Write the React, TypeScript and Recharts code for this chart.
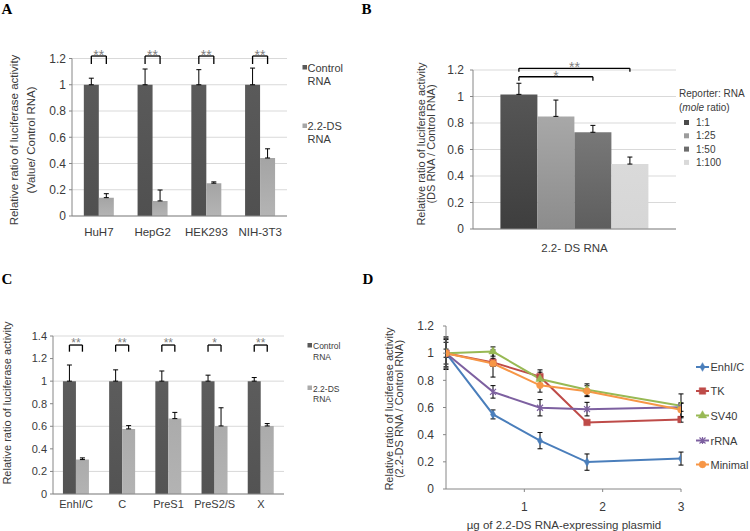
import React from 'react';
import {
  BarChart, Bar, XAxis, YAxis, CartesianGrid, ErrorBar, ReferenceLine,
  LineChart, Line, Symbols,
} from 'recharts';

const FONT = '"Liberation Sans", Arial, Helvetica, sans-serif';
const SERIF = '"Liberation Serif", "Times New Roman", serif';
const TXT = '#3a3a3a';
const AXIS = '#868686';
const GRID = '#d9d9d9';
const STAR = '#7f7f7f';
const W = 750;
const H = 531;

// ---------- Panel A ----------
const cellLinesA = ['HuH7', 'HepG2', 'HEK293', 'NIH-3T3'];
const controlA = [1, 1, 1, 1];
const controlErrA = [0.05, 0.12, 0.115, 0.127];
const dsA = [0.14, 0.115, 0.25, 0.442];
const dsErrA = [0.03, 0.083, 0.01, 0.07];
const sigA = ['**', '**', '**', '**'];
const yTicksA = [0, 0.2, 0.4, 0.6, 0.8, 1, 1.2];
const seriesNamesA = ['Control RNA', '2.2-DS RNA'];

// ---------- Panel B ----------
const groupB = ['2.2- DS RNA'];
const ratiosB = ['1:1', '1:25', '1:50', '1:100'];
const valuesB = [1.016, 0.85, 0.73, 0.49];
const errB = [0.084, 0.123, 0.052, 0.053];
const sigPairsB = [[0, 2], [0, 3]];
const sigLabelsB = ['*', '**'];
const yTicksB = [0, 0.2, 0.4, 0.6, 0.8, 1, 1.2];

// ---------- Panel C ----------
const promotersC = ['EnhI/C', 'C', 'PreS1', 'PreS2/S', 'X'];
const controlC = [1, 1, 1, 1, 1];
const controlErrC = [0.143, 0.1, 0.09, 0.053, 0.032];
const dsC = [0.305, 0.577, 0.668, 0.603, 0.603];
const dsErrC = [0.015, 0.029, 0.055, 0.161, 0.021];
const sigC = ['**', '**', '**', '*', '**'];
const yTicksC = [0, 0.2, 0.4, 0.6, 0.8, 1, 1.2, 1.4];
const seriesNamesC = ['Control RNA', '2.2-DS RNA'];

// ---------- Panel D ----------
const dosesD = [0, 0.6, 1.2, 1.8, 3];
const enhD = [1, 0.549, 0.356, 0.198, 0.224];
const enhErrD = [0.12, 0.033, 0.06, 0.06, 0.048];
const tkD = [1, 0.932, 0.827, 0.49, 0.512];
const tkErrD = [0.1, 0.03, 0.05, 0.012, 0.02];
const sv40D = [1, 1.012, 0.81, 0.73, 0.612];
const sv40ErrD = [0.03, 0.034, 0.05, 0.044, 0.088];
const rrnaD = [1, 0.715, 0.598, 0.588, 0.602];
const rrnaErrD = [0.08, 0.046, 0.06, 0.05, 0.03];
const minimalD = [1, 0.924, 0.763, 0.72, 0.583];
const minimalErrD = [0.11, 0.1, 0.05, 0.04, 0.05];
const seriesNamesD = ['EnhI/C', 'TK', 'SV40', 'rRNA', 'Minimal'];
const xTicksD = [1, 2, 3];
const yTicksD = [0, 0.2, 0.4, 0.6, 0.8, 1, 1.2];

const D_STYLE = [
  { key: 'enh', color: '#4a7ebb', shape: 'diamond', size: 22 },
  { key: 'tk', color: '#be4b48', shape: 'square', size: 42 },
  { key: 'sv40', color: '#98b954', shape: 'triangle', size: 30 },
  { key: 'rrna', color: '#7d60a0', shape: 'asterisk', size: 0 },
  { key: 'minimal', color: '#f79646', shape: 'circle', size: 36 },
];

const tickStyle = (fs: number) => ({ fontSize: fs, fill: TXT, fontFamily: FONT });
const range = (n: number) => Array.from({ length: n + 1 }, (_, i) => i);

// centre of bar j (of nb bars) inside category i, in "category units" (numeric axis [0,n])
function barCenter(i: number, j: number, nb: number, gap: number, bandPx: number) {
  const off = bandPx * gap;
  let size = (bandPx - 2 * off) / nb;
  if (size > 1) size = Math.floor(size);
  return i + (off + size * (j + 0.5)) / bandPx;
}

function bracket(key: string, a: number, b: number, yTop: number, yEnd: number,
  label: string, fs: number, labelOffset: number) {
  const common = { xAxisId: 'num', stroke: '#000', strokeWidth: 1.3, ifOverflow: 'visible' as const };
  return [
    <ReferenceLine key={key + 'h'} {...common}
      segment={[{ x: a, y: yTop }, { x: b, y: yTop }]}
      label={{ value: label, position: 'top', offset: labelOffset, fill: STAR, fontSize: fs, fontFamily: FONT }} />,
    <ReferenceLine key={key + 'l'} {...common} segment={[{ x: a, y: yTop }, { x: a, y: yEnd }]} />,
    <ReferenceLine key={key + 'r'} {...common} segment={[{ x: b, y: yTop }, { x: b, y: yEnd }]} />,
  ];
}

function Grad({ id, top, bottom }: { id: string; top: string; bottom: string }) {
  return (
    <linearGradient id={id} x1="0" y1="0" x2="0" y2="1">
      <stop offset="0" stopColor={top} />
      <stop offset="1" stopColor={bottom} />
    </linearGradient>
  );
}

// ---------- Panel A ----------
function PanelA() {
  const n = cellLinesA.length;
  const gap = 0.22;
  const m = { top: 58.5, right: 463, bottom: 285, left: 32 };
  const yW = 40;
  const band = (W - m.left - m.right - yW) / n;
  const data = cellLinesA.map((name, i) => ({
    name, pos: i + 0.5,
    control: controlA[i], controlErr: [0, controlErrA[i]],
    ds: dsA[i], dsErr: [0, dsErrA[i]],
  }));
  return (
    <BarChart width={W} height={H} data={data} margin={m} barCategoryGap={`${gap * 100}%`} barGap={0}>
      <defs>
        <Grad id="aCtrl" top="#5a5a5a" bottom="#505050" />
        <Grad id="aDs" top="#a4a4a4" bottom="#b4b4b4" />
      </defs>
      <CartesianGrid xAxisId="cat" vertical={false} stroke={GRID} />
      <XAxis xAxisId="num" dataKey="pos" type="number" domain={[0, n]} ticks={range(n)}
        tickFormatter={() => ''} axisLine={false} tickLine={{ stroke: AXIS }} tickSize={5} height={0} allowDataOverflow />
      <XAxis xAxisId="cat" dataKey="name" interval={0} axisLine={{ stroke: AXIS }} tickLine={false}
        tickSize={0} tickMargin={11.5} height={30} tick={tickStyle(11.5)} />
      <YAxis domain={[0, 1.2]} ticks={yTicksA} width={yW} axisLine={{ stroke: AXIS }}
        tickLine={{ stroke: AXIS }} tickSize={3} tickMargin={3} tick={tickStyle(12)} allowDataOverflow />
      <Bar xAxisId="cat" dataKey="control" fill="url(#aCtrl)" isAnimationActive={false}>
        <ErrorBar dataKey="controlErr" width={2.5} stroke="#000" strokeWidth={1} direction="y" />
      </Bar>
      <Bar xAxisId="cat" dataKey="ds" fill="url(#aDs)" isAnimationActive={false}>
        <ErrorBar dataKey="dsErr" width={2.5} stroke="#000" strokeWidth={1} direction="y" />
      </Bar>
      {sigA.map((s, i) => bracket('a' + i, barCenter(i, 0, 2, gap, band), barCenter(i, 1, 2, gap, band),
        1.219, 1.158, s, 14, -4.2))}
    </BarChart>
  );
}

// ---------- Panel B ----------
function PanelB() {
  const gap = 0.135;
  const m = { top: 70, right: 74, bottom: 272, left: 433 };
  const yW = 40;
  const band = W - m.left - m.right - yW;
  const row: any = { name: groupB[0], pos: 0.5 };
  ratiosB.forEach((r, i) => { row['r' + i] = valuesB[i]; row['e' + i] = [0, errB[i]]; });
  const data = [row];
  const fills = ['url(#b0)', 'url(#b1)', 'url(#b2)', 'url(#b3)'];
  return (
    <BarChart width={W} height={H} data={data} margin={m} barCategoryGap={`${gap * 100}%`} barGap={0}>
      <defs>
        <Grad id="b0" top="#565656" bottom="#3e3e3e" />
        <Grad id="b1" top="#a8a8a8" bottom="#8c8c8c" />
        <Grad id="b2" top="#787878" bottom="#5e5e5e" />
        <Grad id="b3" top="#dadada" bottom="#d6d6d6" />
      </defs>
      <CartesianGrid xAxisId="cat" vertical={false} stroke={GRID} />
      <XAxis xAxisId="num" dataKey="pos" type="number" domain={[0, 1]} ticks={[0, 1]}
        tickFormatter={() => ''} axisLine={false} tickLine={{ stroke: AXIS }} tickSize={5} height={0} allowDataOverflow />
      <XAxis xAxisId="cat" dataKey="name" interval={0} axisLine={{ stroke: AXIS }} tickLine={false}
        tickSize={0} tickMargin={14.5} height={30} tick={tickStyle(11.5)} />
      <YAxis domain={[0, 1.2]} ticks={yTicksB} width={yW} axisLine={{ stroke: AXIS }}
        tickLine={{ stroke: AXIS }} tickSize={3} tickMargin={6} tick={tickStyle(12)} allowDataOverflow />
      {ratiosB.map((r, i) => (
        <Bar key={r} xAxisId="cat" dataKey={'r' + i} name={r} fill={fills[i]} isAnimationActive={false}>
          <ErrorBar dataKey={'e' + i} width={2.5} stroke="#000" strokeWidth={1} direction="y" />
        </Bar>
      ))}
      {bracket('bs', barCenter(0, sigPairsB[0][0], 4, gap, band), barCenter(0, sigPairsB[0][1], 4, gap, band),
        1.149, 1.119, sigLabelsB[0], 14, -4.3)}
      {bracket('bd', barCenter(0, sigPairsB[1][0], 4, gap, band), barCenter(0, sigPairsB[1][1], 4, gap, band),
        1.213, 1.187, sigLabelsB[1], 14, -3.9)}
    </BarChart>
  );
}

// ---------- Panel C ----------
function PanelC() {
  const n = promotersC.length;
  const gap = 0.215;
  const m = { top: 336, right: 466, bottom: 7, left: 17 };
  const yW = 36;
  const band = (W - m.left - m.right - yW) / n;
  const data = promotersC.map((name, i) => ({
    name, pos: i + 0.5,
    control: controlC[i], controlErr: [0, controlErrC[i]],
    ds: dsC[i], dsErr: [0, dsErrC[i]],
  }));
  return (
    <BarChart width={W} height={H} data={data} margin={m} barCategoryGap={`${gap * 100}%`} barGap={0}>
      <defs>
        <Grad id="cCtrl" top="#5c5c5c" bottom="#535353" />
        <Grad id="cDs" top="#ababab" bottom="#b3b3b3" />
      </defs>
      <CartesianGrid xAxisId="cat" vertical={false} stroke={GRID} />
      <XAxis xAxisId="num" dataKey="pos" type="number" domain={[0, n]} ticks={range(n)}
        tickFormatter={() => ''} axisLine={false} tickLine={{ stroke: AXIS }} tickSize={4} height={0} allowDataOverflow />
      <XAxis xAxisId="cat" dataKey="name" interval={0} axisLine={{ stroke: AXIS }} tickLine={false}
        tickSize={0} tickMargin={6} height={30} tick={tickStyle(11)} />
      <YAxis domain={[0, 1.4]} ticks={yTicksC} width={yW} axisLine={{ stroke: AXIS }}
        tickLine={{ stroke: AXIS }} tickSize={3} tickMargin={3} tick={tickStyle(11)} allowDataOverflow />
      <Bar xAxisId="cat" dataKey="control" fill="url(#cCtrl)" isAnimationActive={false}>
        <ErrorBar dataKey="controlErr" width={2.5} stroke="#000" strokeWidth={1} direction="y" />
      </Bar>
      <Bar xAxisId="cat" dataKey="ds" fill="url(#cDs)" isAnimationActive={false}>
        <ErrorBar dataKey="dsErr" width={2.5} stroke="#000" strokeWidth={1} direction="y" />
      </Bar>
      {sigC.map((s, i) => bracket('c' + i, barCenter(i, 0, 2, gap, band), barCenter(i, 1, 2, gap, band),
        1.32, 1.261, s, 12, -1.6))}
    </BarChart>
  );
}

// ---------- Panel D ----------
function renderMarker(shape: string, size: number, color: string, cx: number, cy: number, key?: any) {
  if (shape === 'asterisk') {
    return (
      <path key={key} d={`M${cx - 3},${cy - 3}L${cx + 3},${cy + 3}M${cx - 3},${cy + 3}L${cx + 3},${cy - 3}M${cx},${cy - 3.5}L${cx},${cy + 3.5}`}
        stroke={color} strokeWidth={1.2} fill="none" />
    );
  }
  return <Symbols key={key} cx={cx} cy={cy} type={shape as any} size={size} fill={color} stroke={color} strokeWidth={0.5} />;
}

function PanelD() {
  const values = [enhD, tkD, sv40D, rrnaD, minimalD];
  const errs = [enhErrD, tkErrD, sv40ErrD, rrnaErrD, minimalErrD];
  const data = dosesD.map((x, i) => {
    const row: any = { x };
    D_STYLE.forEach((s, k) => { row[s.key] = values[k][i]; row[s.key + 'Err'] = errs[k][i]; });
    return row;
  });
  const m = { top: 326, right: 69, bottom: 2, left: 416 };
  return (
    <LineChart width={W} height={H} data={data} margin={m}>
      <XAxis dataKey="x" type="number" domain={[0, 3]} ticks={xTicksD} axisLine={{ stroke: AXIS }}
        tickLine={{ stroke: AXIS }} tickSize={3} tickMargin={10.5} height={40} tick={tickStyle(12)} allowDataOverflow />
      <YAxis domain={[0, 1.2]} ticks={yTicksD} width={30} axisLine={{ stroke: AXIS }}
        tickLine={{ stroke: AXIS }} tickSize={3} tickMargin={9} tick={tickStyle(12)} allowDataOverflow />
      {D_STYLE.map((s, k) => (
        <Line key={s.key} dataKey={s.key} name={seriesNamesD[k]} stroke={s.color} strokeWidth={2}
          isAnimationActive={false}
          dot={(p: any) => renderMarker(s.shape, s.size, s.color, p.cx, p.cy, p.key ?? `${s.key}-${p.index}`)}
          activeDot={false}>
          <ErrorBar dataKey={s.key + 'Err'} width={2.5} stroke="#000" strokeWidth={1} direction="y" />
        </Line>
      ))}
    </LineChart>
  );
}

// ---------- overlay text / legends ----------
function Overlay() {
  const t = (fs: number) => ({ fontSize: fs, fill: TXT, fontFamily: FONT });
  const swA = ['#595959', '#a6a6a6'];
  const swB = ['#4a4a4a', '#9c9c9c', '#6c6c6c', '#d9d9d9'];
  const swC = ['#595959', '#ababab'];
  const dLegendY = [367, 391, 415.5, 440.5, 464.5];
  return (
    <svg width={W} height={H} style={{ position: 'absolute', left: 0, top: 0, pointerEvents: 'none' }}>
      {/* panel letters */}
      <g style={{ fontFamily: SERIF, fontWeight: 700, fontSize: 15 }} fill="#000">
        <text x={1.5} y={13.5}>A</text>
        <text x={361.5} y={13.5}>B</text>
        <text x={1.5} y={283.5}>C</text>
        <text x={362.5} y={283.5}>D</text>
      </g>

      {/* A y-title */}
      <text transform="translate(18,140) rotate(-90)" textAnchor="middle" {...t(11.5)}>Relative ratio of luciferase activity</text>
      <text transform="translate(34.5,140) rotate(-90)" textAnchor="middle" {...t(11.5)}>(Value/ Control RNA)</text>
      {/* A legend */}
      {seriesNamesA.map((nm, i) => {
        const [l1, l2] = [nm.slice(0, nm.lastIndexOf(' ')), nm.slice(nm.lastIndexOf(' ') + 1)];
        const y0 = i === 0 ? 71.5 : 130;
        return (
          <g key={nm}>
            <rect x={302.5} y={y0 - 6.5} width={4.5} height={4.5} fill={swA[i]} />
            <text x={307.5} y={y0} {...t(11)}>{l1}</text>
            <text x={307.5} y={y0 + 13} {...t(11)}>{l2}</text>
          </g>
        );
      })}

      {/* B y-title */}
      <text transform="translate(424.5,144) rotate(-90)" textAnchor="middle" {...t(11)}>Relative ratio of luciferase activity</text>
      <text transform="translate(435,144) rotate(-90)" textAnchor="middle" {...t(11)}>(DS RNA / Control RNA)</text>
      {/* B legend */}
      <text x={679} y={97} {...t(10)}>Reporter: RNA</text>
      <text x={679} y={111} {...t(10)}>(<tspan fontStyle="italic">mole</tspan> ratio)</text>
      {ratiosB.map((r, i) => (
        <g key={r}>
          <rect x={684} y={126 + i * 13.3 - 6} width={5} height={5} fill={swB[i]} />
          <text x={696} y={126 + i * 13.3} {...t(10)}>{r}</text>
        </g>
      ))}

      {/* C y-title */}
      <text transform="translate(11,403) rotate(-90)" textAnchor="middle" {...t(11)}>Relative ratio of luciferase activity</text>
      {/* C legend */}
      {seriesNamesC.map((nm, i) => {
        const [l1, l2] = [nm.slice(0, nm.lastIndexOf(' ')), nm.slice(nm.lastIndexOf(' ') + 1)];
        const y0 = i === 0 ? 349 : 391.5;
        return (
          <g key={nm}>
            <rect x={307.5} y={y0 - 6} width={4.5} height={4.5} fill={swC[i]} />
            <text x={313} y={y0} {...t(8.5)}>{l1}</text>
            <text x={313} y={y0 + 10.5} {...t(8.5)}>{l2}</text>
          </g>
        );
      })}

      {/* D y-title */}
      <text transform="translate(392.5,409) rotate(-90)" textAnchor="middle" {...t(11)}>Relative ratio of luciferase activity</text>
      <text transform="translate(403,409) rotate(-90)" textAnchor="middle" {...t(11)}>(2.2-DS RNA / Control RNA)</text>
      {/* D x-title */}
      <text x={564} y={528.5} textAnchor="middle" {...t(11.5)}>µg of 2.2-DS RNA-expressing plasmid</text>
      {/* D legend */}
      {D_STYLE.map((s, k) => (
        <g key={s.key}>
          <line x1={696} x2={709} y1={dLegendY[k]} y2={dLegendY[k]} stroke={s.color} strokeWidth={2} />
          {renderMarker(s.shape, s.size, s.color, 702.5, dLegendY[k])}
          <text x={710.5} y={dLegendY[k] + 4} {...t(11)}>{seriesNamesD[k]}</text>
        </g>
      ))}
    </svg>
  );
}

export default function App() {
  const abs: React.CSSProperties = { position: 'absolute', left: 0, top: 0 };
  return (
    <div style={{ position: 'absolute', left: 0, top: 0, width: W, height: H, background: '#fff', overflow: 'hidden', fontFamily: FONT }}>
      <div style={abs}><PanelA /></div>
      <div style={abs}><PanelB /></div>
      <div style={abs}><PanelC /></div>
      <div style={abs}><PanelD /></div>
      <Overlay />
    </div>
  );
}
